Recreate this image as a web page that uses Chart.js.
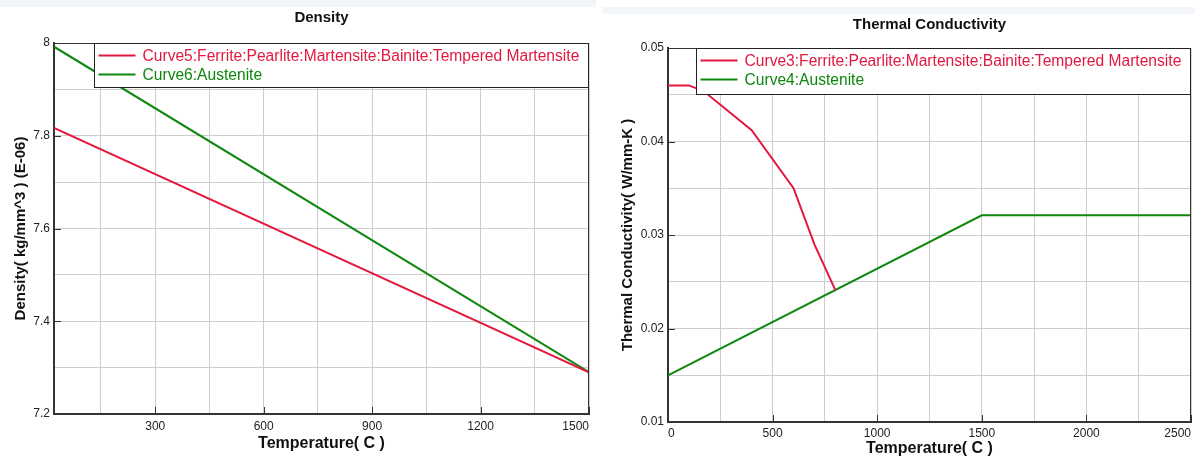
<!DOCTYPE html>
<html><head><meta charset="utf-8">
<script src="https://cdn.jsdelivr.net/npm/chart.js@4/dist/chart.umd.min.js"></script>
<style>
html,body{margin:0;padding:0;background:#fff;width:1195px;height:457px;overflow:hidden;}
#l{position:absolute;left:0;top:0;width:596px;height:457px;}
#r{position:absolute;left:602px;top:0;width:593px;height:457px;}
.band1{position:absolute;left:0;top:0;width:596px;height:7px;background:#f2f5f9;}
.band2{position:absolute;left:602px;top:7px;width:593px;height:7px;background:#f2f5f9;}
</style></head><body>
<div class="band1"></div><div class="band2"></div>
<div id="l"><canvas id="c1" width="596" height="457"></canvas></div>
<div id="r"><canvas id="c2" width="593" height="457"></canvas></div>
<script>
// ---- Density chart data ----
const densityTemps = [20, 1500];
const densityFerrite = [7.817, 7.29];
const densityAustenite = [7.992, 7.29];
const densityXLabels = [300, 600, 900, 1200, 1500];
const densityYLabels = [7.2, 7.4, 7.6, 7.8, 8];
const densityNames = ['Curve5:Ferrite:Pearlite:Martensite:Bainite:Tempered Martensite', 'Curve6:Austenite'];

// ---- Thermal conductivity chart data ----
const condTempsFerrite = [0, 100, 170, 400, 600, 700, 800];
const condFerrite = [0.046, 0.046, 0.0454, 0.0412, 0.035, 0.029, 0.0241];
const condTempsAustenite = [0, 1500, 2500];
const condAustenite = [0.015, 0.0321, 0.0321];
const condXLabels = [0, 500, 1000, 1500, 2000, 2500];
const condYLabels = [0.01, 0.02, 0.03, 0.04, 0.05];
const condNames = ['Curve3:Ferrite:Pearlite:Martensite:Bainite:Tempered Martensite', 'Curve4:Austenite'];

const RED = '#e2183f';
const GREEN = '#0e870e';
const FONT = "'Liberation Sans', Arial, sans-serif";

function pts(xs, ys) { return xs.map((x, i) => ({x: x, y: ys[i]})); }
function isLabel(list, v) { return list.some(l => Math.abs(l - v) < 1e-9); }
function gridValues(min, max, step) {
  const out = [];
  for (let k = Math.ceil(min / step - 1e-9); k <= Math.floor(max / step + 1e-9); k++) out.push(Math.round(k * step * 1e6) / 1e6);
  return out;
}

const decorPlugin = {
  id: 'decor',
  afterDraw(chart) {
    const o = chart.options.plugins.decor;
    const ctx = chart.ctx, a = chart.chartArea;
    ctx.save();
    // top & right border
    ctx.strokeStyle = '#333'; ctx.lineWidth = 1;
    ctx.beginPath();
    ctx.moveTo(a.left, a.top + 0.5); ctx.lineTo(a.right, a.top + 0.5);
    ctx.moveTo(a.right - 0.5, a.top); ctx.lineTo(a.right - 0.5, a.bottom);
    ctx.stroke();
    // inward tick marks on labelled ticks
    const xs = chart.scales.x, ys = chart.scales.y;
    ctx.beginPath();
    xs.ticks.forEach(t => { if (isLabel(o.xLabels, t.value)) { const p = Math.round(xs.getPixelForValue(t.value)) + 0.5; ctx.moveTo(p, a.bottom); ctx.lineTo(p, a.bottom - 7); } });
    ys.ticks.forEach(t => { if (isLabel(o.yLabels, t.value)) { const p = Math.round(ys.getPixelForValue(t.value)) + 0.5; ctx.moveTo(a.left, p); ctx.lineTo(a.left + 7, p); } });
    ctx.stroke();
    // legend box
    ctx.font = '15.6px ' + FONT;
    const tw = Math.max(...o.names.map(n => ctx.measureText(n).width));
    const w = 48 + tw + 10, h = o.legendH;
    const lx = Math.round(a.right - w) + 0.5, ly = a.top + 0.5;
    ctx.fillStyle = '#fff';
    ctx.fillRect(lx, ly, w, h);
    ctx.strokeStyle = '#222'; ctx.lineWidth = 1;
    ctx.strokeRect(lx, ly, a.right - 0.5 - lx, h);
    const rows = [12.5, 31.5];
    chart.data.datasets.forEach((ds, i) => {
      const y = a.top + rows[i];
      ctx.strokeStyle = ds.borderColor; ctx.lineWidth = 2;
      ctx.beginPath(); ctx.moveTo(lx + 4, y); ctx.lineTo(lx + 41, y); ctx.stroke();
      ctx.fillStyle = ds.borderColor; ctx.textBaseline = 'middle'; ctx.textAlign = 'left';
      ctx.fillText(o.names[i], lx + 48, y + 1);
    });
    // chart title
    ctx.fillStyle = '#111'; ctx.font = 'bold 15px ' + FONT; ctx.textAlign = 'center'; ctx.textBaseline = 'middle';
    ctx.fillText(o.title, (a.left + a.right) / 2, o.titleY);
    ctx.restore();
  }
};

function makeChart(id, cfg) {
  return new Chart(document.getElementById(id), {
    type: 'line',
    data: {
      datasets: [
        {data: cfg.d1, borderColor: RED, backgroundColor: RED, borderWidth: 2, pointRadius: 0, tension: 0, fill: false},
        {data: cfg.d2, borderColor: GREEN, backgroundColor: GREEN, borderWidth: 2, pointRadius: 0, tension: 0, fill: false}
      ]
    },
    options: {
      responsive: false, animation: false, devicePixelRatio: 1,
      layout: {padding: cfg.padding},
      plugins: {
        legend: {display: false}, title: {display: false}, tooltip: {enabled: false},
        decor: {xLabels: cfg.xLabels, yLabels: cfg.yLabels, names: cfg.names, title: cfg.title, titleY: cfg.titleY, legendH: cfg.legendH}
      },
      scales: {
        x: {
          type: 'linear', min: cfg.xMin, max: cfg.xMax,
          afterBuildTicks: s => { s.ticks = gridValues(cfg.xMin, cfg.xMax, cfg.xStep).map(v => ({value: v})); },
          afterFit: s => { s.height = cfg.xH; },
          grid: {color: '#cdcdcd', drawTicks: false},
          border: {color: '#333', width: 2},
          ticks: {align: 'inner', autoSkip: false, maxRotation: 0, padding: cfg.xPad, color: '#222', font: {family: FONT, size: 12},
            callback: v => isLabel(cfg.xLabels, v) ? String(v) : ''},
          title: {display: true, text: 'Temperature( C )', color: '#111', font: {family: FONT, size: 16, weight: 'bold', lineHeight: cfg.xTitleLH}, padding: {top: 0, bottom: cfg.xTitlePad}}
        },
        y: {
          type: 'linear', min: cfg.yMin, max: cfg.yMax,
          afterBuildTicks: s => { s.ticks = gridValues(cfg.yMin, cfg.yMax, cfg.yStep).map(v => ({value: v})); },
          afterFit: s => { s.width = cfg.yW; },
          grid: {color: '#cdcdcd', drawTicks: false},
          border: {color: '#333', width: 2},
          ticks: {autoSkip: false, padding: 4, color: '#222', font: {family: FONT, size: 12},
            callback: v => { const l = cfg.yLabels.find(q => Math.abs(q - v) < 1e-9); return l === undefined ? '' : cfg.yFmt(l); }},
          title: {display: true, text: cfg.yTitle, color: '#111', font: {family: FONT, size: 15, weight: 'bold', lineHeight: 1.2}, padding: {top: cfg.yTitlePad, bottom: 0}}
        }
      }
    },
    plugins: [decorPlugin]
  });
}

makeChart('c1', {
  d1: pts(densityTemps, densityFerrite), d2: pts(densityTemps, densityAustenite),
  xMin: 20, xMax: 1500, xStep: 150, yMin: 7.2, yMax: 8, yStep: 0.1,
  xLabels: densityXLabels, yLabels: densityYLabels, names: densityNames,
  yFmt: v => String(v), yTitle: 'Density( kg/mm^3 ) (E-06)', title: 'Density', titleY: 18,
  padding: {top: 43, right: 7, left: 0, bottom: 0}, xH: 43, yW: 54, xPad: 5, xTitleLH: 1.0, xTitlePad: 5, yTitlePad: 12, legendH: 44
});

makeChart('c2', {
  d1: pts(condTempsFerrite, condFerrite), d2: pts(condTempsAustenite, condAustenite),
  xMin: 0, xMax: 2500, xStep: 250, yMin: 0.01, yMax: 0.05, yStep: 0.005,
  xLabels: condXLabels, yLabels: condYLabels, names: condNames,
  yFmt: v => v.toFixed(2), yTitle: 'Thermal Conductivity( W/mm-K )', title: 'Thermal Conductivity', titleY: 25,
  padding: {top: 48, right: 1, left: 0, bottom: 0}, xH: 35, yW: 66, xPad: 4, xTitleLH: 1.0, xTitlePad: 0, yTitlePad: 17, legendH: 46
});
</script>
</body></html>
